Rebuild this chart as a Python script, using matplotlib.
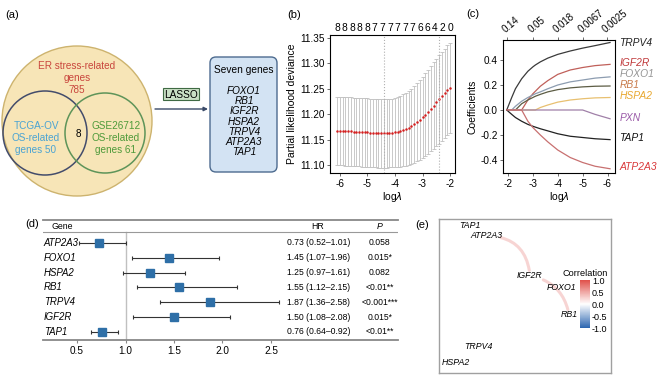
import matplotlib.pyplot as plt
import matplotlib as mpl
import numpy as np
from matplotlib.patches import Circle, FancyBboxPatch, FancyArrowPatch
from matplotlib.colors import LinearSegmentedColormap, Normalize

plt.rcParams['font.family'] = ['Liberation Sans', 'DejaVu Sans']
plt.rcParams['mathtext.fontset'] = 'dejavusans'
plt.rcParams['axes.unicode_minus'] = False

# ---- (a) venn + lasso ----
venn_texts = ['ER stress-related\ngenes\n785', 'TCGA-OV\nOS-related\ngenes 50', 'GSE26712\nOS-related\ngenes 61']
venn_overlap = '8'
seven_genes = ['FOXO1', 'RB1', 'IGF2R', 'HSPA2', 'TRPV4', 'ATP2A3', 'TAP1']

# ---- (b) cross-validation deviance ----
b_loglam = [-6.1, -6.0, -5.9, -5.8, -5.7, -5.6, -5.5, -5.4, -5.3, -5.2, -5.1, -5.0, -4.9, -4.8,
            -4.7, -4.6, -4.5, -4.4, -4.3, -4.2, -4.1, -4.0, -3.9, -3.8, -3.7, -3.6, -3.5, -3.4,
            -3.3, -3.2, -3.1, -3.0, -2.9, -2.8, -2.7, -2.6, -2.5, -2.4, -2.3, -2.2, -2.1, -2.0]
b_dev = [11.167, 11.167, 11.167, 11.166, 11.166, 11.166, 11.165, 11.165, 11.165, 11.164, 11.164,
         11.164, 11.163, 11.163, 11.163, 11.162, 11.162, 11.162, 11.162, 11.163, 11.163, 11.164,
         11.165, 11.166, 11.168, 11.170, 11.173, 11.176, 11.180, 11.184, 11.189, 11.194, 11.199,
         11.205, 11.211, 11.217, 11.223, 11.229, 11.235, 11.241, 11.247, 11.252]
b_sd = [0.0675, 0.0675, 0.0675, 0.0675, 0.0675, 0.0675, 0.0675, 0.0675, 0.0675, 0.0675, 0.0675,
        0.0675, 0.0675, 0.0675, 0.0675, 0.0675, 0.0675, 0.0675, 0.0676, 0.0677, 0.0678, 0.068,
        0.069, 0.070, 0.071, 0.072, 0.073, 0.074, 0.0755, 0.077, 0.0785, 0.080, 0.0815, 0.083,
        0.084, 0.085, 0.086, 0.087, 0.0875, 0.088, 0.0885, 0.089]
b_top_pos = [-6.1, -5.827, -5.553, -5.28, -5.007, -4.733, -4.46, -4.187, -3.913, -3.64,
             -3.367, -3.093, -2.82, -2.547, -2.273, -2.0]
b_top_n = ['8', '8', '8', '8', '8', '7', '7', '7', '7', '7', '7', '6', '6', '4', '2', '0']
b_lam_min = -4.4
b_lam_1se = -2.4

# ---- (c) coefficient paths ----
c_loglam = [-1.95, -2.15, -2.3, -2.55, -2.8, -3.0, -3.1, -3.3, -3.6, -4.0, -4.5, -5.0, -5.5, -6.1]
c_genes = ['TRPV4', 'IGF2R', 'FOXO1', 'RB1', 'HSPA2', 'PXN', 'TAP1', 'ATP2A3']
c_coef = {
    'TRPV4': [0, 0.10, 0.17, 0.25, 0.31, 0.345, 0.36, 0.385, 0.415, 0.445, 0.472, 0.495, 0.515, 0.54],
    'IGF2R': [0, 0, 0, 0, 0.08, 0.13, 0.15, 0.19, 0.235, 0.285, 0.32, 0.34, 0.355, 0.365],
    'FOXO1': [0, 0, 0.03, 0.07, 0.10, 0.12, 0.13, 0.145, 0.17, 0.20, 0.225, 0.24, 0.255, 0.265],
    'RB1': [0, 0, 0, 0.05, 0.08, 0.10, 0.11, 0.125, 0.145, 0.163, 0.177, 0.185, 0.19, 0.192],
    'HSPA2': [0, 0, 0, 0, 0, 0, 0, 0.02, 0.04, 0.063, 0.08, 0.09, 0.097, 0.10],
    'PXN': [0, 0, 0, 0, 0, 0, 0, 0, 0, 0, 0, 0, -0.035, -0.07],
    'TAP1': [0, -0.035, -0.06, -0.09, -0.115, -0.13, -0.137, -0.15, -0.167, -0.19, -0.21, -0.22, -0.23, -0.237],
    'ATP2A3': [0, 0, 0, 0, -0.09, -0.14, -0.16, -0.20, -0.255, -0.32, -0.38, -0.42, -0.45, -0.47],
}
c_line_col = ['#3a3a3a', '#c0605a', '#8c9cb0', '#5c5c44', '#e8c070', '#a080a8', '#222222', '#c87070']
c_text_col = ['#222222', '#c0393b', '#959595', '#c87a4a', '#e8a830', '#9a5aa8', '#111111', '#d9383a']
c_label_y = [0.54, 0.375, 0.285, 0.20, 0.11, -0.065, -0.225, -0.455]
c_top_lam = [0.14, 0.05, 0.018, 0.0067, 0.0025]
c_top_lab = ['0.14', '0.05', '0.018', '0.0067', '0.0025']

# ---- (d) forest ----
d_genes = ['ATP2A3', 'FOXO1', 'HSPA2', 'RB1', 'TRPV4', 'IGF2R', 'TAP1']
d_hr = np.array([0.73, 1.45, 1.25, 1.55, 1.87, 1.50, 0.76])
d_lo = np.array([0.52, 1.07, 0.97, 1.12, 1.36, 1.08, 0.64])
d_hi = np.array([1.01, 1.96, 1.61, 2.15, 2.58, 2.08, 0.92])
d_p = ['0.058', '0.015*', '0.082', '<0.01**', '<0.001***', '0.015*', '<0.01**']
d_ticks = [0.5, 1.0, 1.5, 2.0, 2.5]

# ---- (e) correlation network ----
e_nodes = ['TAP1', 'ATP2A3', 'IGF2R', 'FOXO1', 'RB1', 'TRPV4', 'HSPA2']
e_x = [0.18, 0.279, 0.529, 0.715, 0.756, 0.227, 0.099]
e_y = [0.955, 0.89, 0.63, 0.558, 0.377, 0.169, 0.065]
e_edges = [('ATP2A3', 'IGF2R', 0.3), ('IGF2R', 'RB1', 0.3)]
e_rad = [-0.45, -0.35]

W, H = 660, 376


def px_rect(l, t, r, b):
    return [l / W, 1 - b / H, (r - l) / W, (b - t) / H]


fig = plt.figure(figsize=(6.6, 3.76), dpi=100)
ov = fig.add_axes([0, 0, 1, 1])
ov.set_xlim(0, W)
ov.set_ylim(H, 0)
ov.axis('off')

# panel letters
for lab, x, y in [('(a)', 5, 15), ('(b)', 287, 15), ('(c)', 466, 14), ('(d)', 25, 224), ('(e)', 415, 225)]:
    ov.text(x, y, lab, fontsize=8, ha='left', va='center')

# (a)
ov.add_patch(Circle((77, 121), 75, fc='#f7e5b7', ec='#cdb36e', lw=1))
ov.add_patch(Circle((45, 133), 42, fc='none', ec='#434c6b', lw=1.1))
ov.add_patch(Circle((105, 133), 40, fc='none', ec='#5e9459', lw=1.1))
ov.text(77, 78, venn_texts[0], color='#c9463d', fontsize=7.2, ha='center', va='center', linespacing=1.3)
ov.text(36, 138, venn_texts[1], color='#4aa3d3', fontsize=7.2, ha='center', va='center', linespacing=1.3)
ov.text(116, 138, venn_texts[2], color='#4e9a3a', fontsize=7.2, ha='center', va='center', linespacing=1.3)
ov.text(78, 134, venn_overlap, fontsize=7.2, ha='center', va='center')

ov.add_patch(FancyBboxPatch((163, 88), 36, 12, boxstyle='square,pad=0', fc='#c9dfc5', ec='#3f6a43', lw=0.8))
ov.text(181, 94.5, 'LASSO', fontsize=7.3, ha='center', va='center')
ov.annotate('', xy=(208, 109), xytext=(155, 109),
            arrowprops=dict(arrowstyle='-|>', color='#3a4a68', lw=1, mutation_scale=6, shrinkA=0, shrinkB=0))
ov.add_patch(FancyBboxPatch((210, 57), 67, 115, boxstyle='round,pad=0,rounding_size=6',
                            fc='#d3e3f3', ec='#4d6b8f', lw=1))
ov.text(244, 70, 'Seven genes', fontsize=7.3, ha='center', va='center')
for i, g in enumerate(seven_genes):
    ov.text(244, 91 + 10.2 * i, g, fontsize=7.2, style='italic', ha='center', va='center')

# (b)
ax_b = fig.add_axes(px_rect(330, 35, 455, 173))
ax_b.errorbar(b_loglam, b_dev, yerr=b_sd, fmt='none', ecolor='#c0c0c0', elinewidth=0.6,
              capsize=1.2, capthick=0.6)
ax_b.plot(b_loglam, b_dev, 'o', color='#d42020', ms=1.8, mec='none')
ax_b.axvline(b_lam_min, color='#b0b0b0', ls=':', lw=0.8)
ax_b.axvline(b_lam_1se, color='#b0b0b0', ls=':', lw=0.8)
ax_b.set_xlim(-6.36, -1.82)
ax_b.set_ylim(11.084, 11.356)
ax_b.set_xticks([-6, -5, -4, -3, -2])
ax_b.set_yticks([11.10, 11.15, 11.20, 11.25, 11.30, 11.35])
ax_b.set_yticklabels(['11.10', '11.15', '11.20', '11.25', '11.30', '11.35'])
ax_b.tick_params(labelsize=7.2, length=2.5, width=0.6, color='#555', pad=1.5)
ax_b.set_xlabel('log$\\lambda$', fontsize=7.5, labelpad=1)
ax_b.set_ylabel('Partial likelihood deviance', fontsize=7.5, labelpad=2)
for s in ax_b.spines.values():
    s.set_color('#666')
    s.set_linewidth(0.7)
ax_bt = ax_b.twiny()
ax_bt.set_xlim(ax_b.get_xlim())
ax_bt.set_xticks(b_top_pos)
ax_bt.set_xticklabels(b_top_n)
ax_bt.tick_params(labelsize=7.4, length=0, pad=1.5)

# (c)
ax_c = fig.add_axes(px_rect(503, 40, 615, 173))
for g, lc, tc, ly in zip(c_genes, c_line_col, c_text_col, c_label_y):
    ax_c.plot(c_loglam, c_coef[g], color=lc, lw=0.9)
    ax_c.text(1.04, ly, g, transform=ax_c.get_yaxis_transform(), color=tc, fontsize=7.4,
              style='italic', ha='left', va='center', clip_on=False)
ax_c.set_xlim(-1.8, -6.3)
ax_c.set_ylim(-0.504, 0.56)
ax_c.set_xticks([-2, -3, -4, -5, -6])
ax_c.set_yticks([-0.4, -0.2, 0.0, 0.2, 0.4])
ax_c.set_yticklabels(['-0.4', '-0.2', '0.0', '0.2', '0.4'])
ax_c.tick_params(labelsize=7.2, length=2.5, width=0.6, color='#555', pad=1.5)
ax_c.set_xlabel('log$\\lambda$', fontsize=7.5, labelpad=1)
ax_c.set_ylabel('Coefficients', fontsize=7.5, labelpad=2)
for s in ax_c.spines.values():
    s.set_color('#666')
    s.set_linewidth(0.7)
ax_ct = ax_c.twiny()
ax_ct.set_xlim(ax_c.get_xlim())
ax_ct.set_xticks(np.log(c_top_lam))
ax_ct.set_xticklabels(c_top_lab, rotation=40, ha='left', rotation_mode='anchor')
ax_ct.tick_params(labelsize=7, length=2.5, width=0.6, color='#555', pad=1.5)

# (d)
ax_d = fig.add_axes(px_rect(43, 220, 398, 340))
ax_d.set_xlim(0.149, 3.81)
ax_d.set_ylim(6.55, -1.55)
rows = np.arange(len(d_genes))
ax_d.plot([1, 1], [-0.74, 6.55], color='#c0c0c0', lw=1)
ax_d.axhline(-0.74, color='#999', lw=0.8)
ax_d.errorbar(d_hr, rows, xerr=[d_hr - d_lo, d_hi - d_hr], fmt='none', ecolor='#333',
              elinewidth=0.8, capsize=1.6, capthick=0.8)
ax_d.plot(d_hr, rows, 's', color='#2e6fa7', ms=5.5)
ax_d.set_xticks(d_ticks)
ax_d.set_xticklabels(['0.5', '1.0', '1.5', '2.0', '2.5'])
ax_d.set_yticks([])
ax_d.tick_params(axis='x', labelsize=7.2, length=2.5, color='#888', pad=1.5)
for s in ['left', 'right']:
    ax_d.spines[s].set_visible(False)
for s in ['top', 'bottom']:
    ax_d.spines[s].set_color('#888')
    ax_d.spines[s].set_linewidth(1.3)
tr = ax_d.get_yaxis_transform()
ax_d.text(0.025, -1.08, 'Gene', transform=tr, fontsize=6.3, ha='left', va='center')
ax_d.text(0.775, -1.08, 'HR', transform=tr, fontsize=6.3, ha='center', va='center')
ax_d.text(0.949, -1.08, 'P', transform=tr, fontsize=6.3, style='italic', ha='center', va='center')
for i, g in enumerate(d_genes):
    ax_d.text(0.002, i, g, transform=tr, fontsize=6.9, style='italic', ha='left', va='center')
    ax_d.text(0.687, i, f'{d_hr[i]:.2f} ({d_lo[i]:.2f}\u2013{d_hi[i]:.2f})', transform=tr,
              fontsize=6.2, ha='left', va='center')
    ax_d.text(0.949, i, d_p[i], transform=tr, fontsize=6.2, ha='center', va='center')

# (e)
cmap = LinearSegmentedColormap.from_list('corr', ['#2b65b0', '#ffffff', '#e0504a'])
ax_e = fig.add_axes(px_rect(439, 219, 611, 373))
ax_e.set_xlim(0, 1)
ax_e.set_ylim(0, 1)
ax_e.set_xticks([])
ax_e.set_yticks([])
for s in ax_e.spines.values():
    s.set_color('#a0a0a0')
    s.set_linewidth(1)
for (a, b, r), rad in zip(e_edges, e_rad):
    ia, ib = e_nodes.index(a), e_nodes.index(b)
    col = cmap(0.5 + r / 2)
    ax_e.add_patch(FancyArrowPatch((e_x[ia], e_y[ia]), (e_x[ib], e_y[ib]), transform=ax_e.transAxes,
                                   connectionstyle=f'arc3,rad={rad}', arrowstyle='-', color=col,
                                   lw=2.2, alpha=0.8, shrinkA=10, shrinkB=4, zorder=1))
for n, x, y in zip(e_nodes, e_x, e_y):
    ax_e.text(x, y, n, fontsize=6.3, style='italic', ha='center', va='center', zorder=3)

ax_cb = fig.add_axes(px_rect(580, 280, 590, 328))
cb = mpl.colorbar.ColorbarBase(ax_cb, cmap=cmap, norm=Normalize(-1, 1), ticks=[-1, -0.5, 0, 0.5, 1])
cb.set_ticklabels(['-1.0', '-0.5', '0.0', '0.5', '1.0'])
cb.outline.set_visible(False)
ax_cb.tick_params(labelsize=6.5, length=0, pad=1.5)
ax_cb.set_title('Correlation', fontsize=6.6, pad=3)

fig.savefig('out.png', dpi=100)
